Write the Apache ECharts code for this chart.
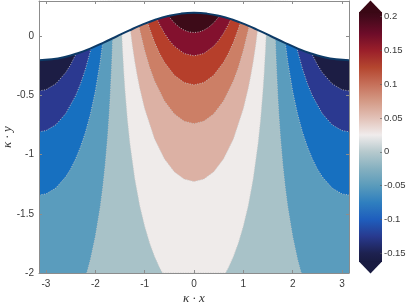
<!DOCTYPE html>
<html><head><meta charset="utf-8">
<script src="https://cdn.jsdelivr.net/npm/echarts@6/dist/echarts.min.js"></script>
<style>html,body{margin:0;padding:0;background:#fff}#c{width:407px;height:305px}</style>
</head><body><div id="c"></div>
<script>
const xTicks = [-3, -2, -1, 0, 1, 2, 3];
const yTicks = [-2, -1.5, -1, -0.5, 0];
const cbTicks = [-0.15, -0.1, -0.05, 0, 0.05, 0.1, 0.15, 0.2];
const cbRange = [-0.163, 0.207];
// colour map (value, colour) bottom to top
const cmapStops = [
  [-0.163, '#191b41'], [-0.15, '#1d2150'], [-0.125, '#283a8f'], [-0.1, '#1f5ebd'],
  [-0.075, '#2f7fbf'], [-0.05, '#5a9bbb'], [-0.025, '#85b0c0'], [0, '#b6c9cd'],
  [0.025, '#f0ecec'], [0.05, '#e2c1b7'], [0.075, '#d49a86'], [0.1, '#c6705a'],
  [0.125, '#b4462f'], [0.15, '#9a1f2a'], [0.175, '#6d0c29'], [0.2, '#42091a'], [0.207, '#3a0815']
];
// free surface
const surface = [
  [-3.1416,-0.2],[-2.8798,-0.1932],[-2.618,-0.1732],[-2.3562,-0.1414],[-2.0944,-0.1],[-1.8326,-0.0518],
  [-1.5708,0],[-1.309,0.0518],[-1.0472,0.1],[-0.7854,0.1414],[-0.5236,0.1732],[-0.2618,0.1932],[0,0.2],
  [0.2618,0.1932],[0.5236,0.1732],[0.7854,0.1414],[1.0472,0.1],[1.309,0.0518],[1.5708,0],
  [1.8326,-0.0518],[2.0944,-0.1],[2.3562,-0.1414],[2.618,-0.1732],[2.8798,-0.1932],[3.1416,-0.2]
];
// contour boundaries (negative levels: band lies below the curve)
const c1 = [[-3.1416,-0.460],[-3.0,-0.450],[-2.8,-0.400],[-2.6,-0.305],[-2.5,-0.238],[-2.4,-0.155],[-2.3,-0.054],[-2.2,0.070],[-2.057,0.3],
  [2.057,0.3],[2.2,0.070],[2.3,-0.054],[2.4,-0.155],[2.5,-0.238],[2.6,-0.305],[2.8,-0.400],[3.0,-0.450],[3.1416,-0.460]];
const c2 = [[-3.1416,-0.806],[-3.0,-0.796],[-2.8,-0.747],[-2.6,-0.652],[-2.4,-0.502],[-2.3,-0.400],[-2.2,-0.276],[-2.1,-0.123],[-2.05,-0.032],[-2.0,0.070],[-1.908,0.3],
  [1.908,0.3],[2.0,0.070],[2.05,-0.032],[2.1,-0.123],[2.2,-0.276],[2.3,-0.400],[2.4,-0.502],[2.6,-0.652],[2.8,-0.747],[3.0,-0.796],[3.1416,-0.806]];
const c3 = [[-3.1416,-1.341],[-3.0,-1.331],[-2.8,-1.282],[-2.6,-1.187],[-2.5,-1.120],[-2.4,-1.037],[-2.3,-0.935],[-2.2,-0.811],[-2.1,-0.658],[-2.0,-0.465],[-1.9,-0.212],[-1.85,-0.052],[-1.8,0.141],[-1.766,0.3],
  [1.766,0.3],[1.8,0.141],[1.85,-0.052],[1.9,-0.212],[2.0,-0.465],[2.1,-0.658],[2.2,-0.811],[2.3,-0.935],[2.4,-1.037],[2.5,-1.120],[2.6,-1.187],[2.8,-1.282],[3.0,-1.331],[3.1416,-1.341]];
const c4 = [[-2.172,-2],[-2.1,-1.887],[-2.0,-1.694],[-1.9,-1.441],[-1.85,-1.281],[-1.8,-1.088],[-1.75,-0.846],[-1.72,-0.664],[-1.7,-0.521],[-1.67,-0.258],[-1.66,-0.152],[-1.65,-0.034],[-1.628,0.3],
  [1.628,0.3],[1.65,-0.034],[1.66,-0.152],[1.67,-0.258],[1.7,-0.521],[1.72,-0.664],[1.75,-0.846],[1.8,-1.088],[1.85,-1.281],[1.9,-1.441],[2.0,-1.694],[2.1,-1.887],[2.172,-2]];
// contour boundaries (positive levels: band lies above the curve)
const c5 = [[-1.490,0.3],[-1.47,0.075],[-1.45,-0.105],[-1.42,-0.326],[-1.4,-0.449],[-1.35,-0.703],[-1.3,-0.902],[-1.2,-1.206],[-1.1,-1.431],[-1.0,-1.605],[-0.9,-1.746],[-0.8,-1.860],[-0.7,-1.953],[-0.640,-2],
  [0.640,-2],[0.7,-1.953],[0.8,-1.860],[0.9,-1.746],[1.0,-1.605],[1.1,-1.431],[1.2,-1.206],[1.3,-0.902],[1.35,-0.703],[1.4,-0.449],[1.42,-0.326],[1.45,-0.105],[1.47,0.075],[1.490,0.3]];
const c6 = [[-1.352,0.3],[-1.3,0.093],[-1.25,-0.072],[-1.2,-0.211],[-1.15,-0.331],[-1.1,-0.435],[-1.0,-0.610],[-0.8,-0.864],[-0.6,-1.034],[-0.4,-1.144],[-0.2,-1.206],[0,-1.226],
  [0.2,-1.206],[0.4,-1.144],[0.6,-1.034],[0.8,-0.864],[1.0,-0.610],[1.1,-0.435],[1.15,-0.331],[1.2,-0.211],[1.25,-0.072],[1.3,0.093],[1.352,0.3]];
const c7 = [[-1.2085,0.3],[-1.15,0.158],[-1.1,0.053],[-1.0,-0.121],[-0.9,-0.262],[-0.8,-0.376],[-0.6,-0.545],[-0.4,-0.655],[-0.2,-0.717],[0,-0.737],
  [0.2,-0.717],[0.4,-0.655],[0.6,-0.545],[0.8,-0.376],[0.9,-0.262],[1.0,-0.121],[1.1,0.053],[1.15,0.158],[1.2085,0.3]];
const c8 = [[-1.057,0.3],[-1.0,0.206],[-0.9,0.065],[-0.8,-0.049],[-0.7,-0.142],[-0.6,-0.218],[-0.4,-0.328],[-0.2,-0.390],[0,-0.410],
  [0.2,-0.390],[0.4,-0.328],[0.6,-0.218],[0.7,-0.142],[0.8,-0.049],[0.9,0.065],[1.0,0.206],[1.057,0.3]];
const c9 = [[-0.891,0.3],[-0.8,0.197],[-0.7,0.104],[-0.6,0.028],[-0.5,-0.034],[-0.4,-0.082],[-0.2,-0.144],[0,-0.164],
  [0.2,-0.144],[0.4,-0.082],[0.5,-0.034],[0.6,0.028],[0.7,0.104],[0.8,0.197],[0.891,0.3]];
const c10 = [[-0.699,0.3],[-0.6,0.225],[-0.5,0.164],[-0.4,0.115],[-0.3,0.079],[-0.2,0.053],[-0.1,0.038],[0,0.033],
  [0.1,0.038],[0.2,0.053],[0.3,0.079],[0.4,0.115],[0.5,0.164],[0.6,0.225],[0.699,0.3]];
const bandColors = ['#1c1d44','#2b3990','#1770c0','#5a9cbd','#a8c2c8','#efebea','#dcb1a4','#cc7f66','#b63f2b','#83112e','#3d0b18'];

const lowerCurves = [c1, c2, c3, c4];
const upperCurves = [c5, c6, c7, c8, c9, c10];

const chart = echarts.init(document.getElementById('c'), null, {renderer: 'canvas'});
const tickFont = {fontFamily: 'Liberation Sans, Arial, sans-serif', fontSize: 10, color: '#3a3a3a'};
const frame = {show: true, onZero: false, lineStyle: {color: '#8c8c8c', width: 1}};
const dotLine = {color: 'rgba(200,200,200,0.85)', width: 1, type: [1, 1.5]};
const fmt = v => String(+(+v).toFixed(2));

const series = [];
lowerCurves.forEach((d, i) => series.push({
  type: 'line', data: d, xAxisIndex: 0, yAxisIndex: 0, symbol: 'none', showSymbol: false,
  lineStyle: dotLine, areaStyle: {color: bandColors[i + 1], opacity: 1, origin: 'start'},
  z: 2 + i, silent: true, animation: false
}));
upperCurves.forEach((d, i) => series.push({
  type: 'line', data: d, xAxisIndex: 0, yAxisIndex: 0, symbol: 'none', showSymbol: false,
  lineStyle: dotLine, areaStyle: {color: bandColors[i + 5], opacity: 1, origin: 'end'},
  z: 6 + i, silent: true, animation: false
}));
series.push({
  type: 'line', data: surface, xAxisIndex: 0, yAxisIndex: 0, symbol: 'none', showSymbol: false, smooth: true,
  lineStyle: {color: '#0d3a66', width: 2}, areaStyle: {color: '#ffffff', opacity: 1, origin: 'end'},
  z: 20, silent: true, animation: false
});
const span = cbRange[1] - cbRange[0];
const gradStops = cmapStops.map(s => ({offset: (cbRange[1] - s[0]) / span, color: s[1]})).reverse();
series.push({
  type: 'custom', xAxisIndex: 2, yAxisIndex: 2, data: [[0.5, 0]], silent: true, animation: false, z: 2,
  renderItem: (params, api) => {
    const cs = params.coordSys;
    const top = api.coord([0.5, cbRange[1]])[1];
    const bot = api.coord([0.5, cbRange[0]])[1];
    const x0 = cs.x, w = cs.width, tri = 11.5;
    return {type: 'group', children: [
      {type: 'rect', shape: {x: x0, y: top, width: w, height: bot - top},
        style: {fill: new echarts.graphic.LinearGradient(0, 0, 0, 1, gradStops)}},
      {type: 'polygon', shape: {points: [[x0, top + 0.5], [x0 + w / 2, top - tri], [x0 + w, top + 0.5]]},
        style: {fill: cmapStops[cmapStops.length - 1][1]}},
      {type: 'polygon', shape: {points: [[x0, bot - 0.5], [x0 + w / 2, bot + tri], [x0 + w, bot - 0.5]]},
        style: {fill: cmapStops[0][1]}}
    ]};
  }
});

chart.setOption({
  animation: false,
  grid: [
    {left: 39, right: 58, top: 1, bottom: 32, show: true, backgroundColor: bandColors[0], borderWidth: 0,
      containLabel: false, outerBoundsMode: 'none'},
    {left: 359, width: 23, top: 12, height: 250, containLabel: false, outerBoundsMode: 'none'}
  ],
  xAxis: [
    {type: 'value', gridIndex: 0, min: -3.1416, max: 3.1416, position: 'bottom', z: 30,
      axisLine: frame, splitLine: {show: false},
      axisTick: {show: true, inside: true, length: 3, customValues: xTicks, lineStyle: {color: '#8c8c8c'}},
      axisLabel: Object.assign({customValues: xTicks, margin: 6, formatter: fmt}, tickFont),
      name: 'κ · x', nameLocation: 'middle', nameGap: 19, nameMoveOverlap: false,
      nameTextStyle: {fontFamily: 'Liberation Serif, serif', fontStyle: 'italic', fontSize: 13, color: '#333'}},
    {type: 'value', gridIndex: 0, min: -3.1416, max: 3.1416, position: 'top', z: 30,
      axisLine: frame, splitLine: {show: false},
      axisTick: {show: true, inside: true, length: 3, customValues: xTicks, lineStyle: {color: '#8c8c8c'}},
      axisLabel: {show: false}},
    {type: 'value', gridIndex: 1, min: 0, max: 1, show: false}
  ],
  yAxis: [
    {type: 'value', gridIndex: 0, min: -2, max: 0.3, position: 'left', z: 30,
      axisLine: frame, splitLine: {show: false},
      axisTick: {show: true, inside: true, length: 3, customValues: yTicks, lineStyle: {color: '#8c8c8c'}},
      axisLabel: Object.assign({customValues: yTicks, margin: 5, formatter: fmt}, tickFont),
      name: 'κ · y', nameLocation: 'middle', nameGap: 25, nameMoveOverlap: false,
      nameTextStyle: {fontFamily: 'Liberation Serif, serif', fontStyle: 'italic', fontSize: 13, color: '#333'}},
    {type: 'value', gridIndex: 0, min: -2, max: 0.3, position: 'right', z: 30,
      axisLine: frame, splitLine: {show: false},
      axisTick: {show: true, inside: true, length: 3, customValues: yTicks, lineStyle: {color: '#8c8c8c'}},
      axisLabel: {show: false}},
    {type: 'value', gridIndex: 1, min: cbRange[0], max: cbRange[1], position: 'right', z: 30,
      axisLine: {show: false, onZero: false}, splitLine: {show: false},
      axisTick: {show: true, inside: true, length: 2, customValues: cbTicks, lineStyle: {color: 'rgba(90,90,90,0.6)'}},
      axisLabel: Object.assign({}, tickFont, {customValues: cbTicks, margin: 2, fontSize: 9.5, formatter: fmt})}
  ],
  series: series
});
</script></body></html>
